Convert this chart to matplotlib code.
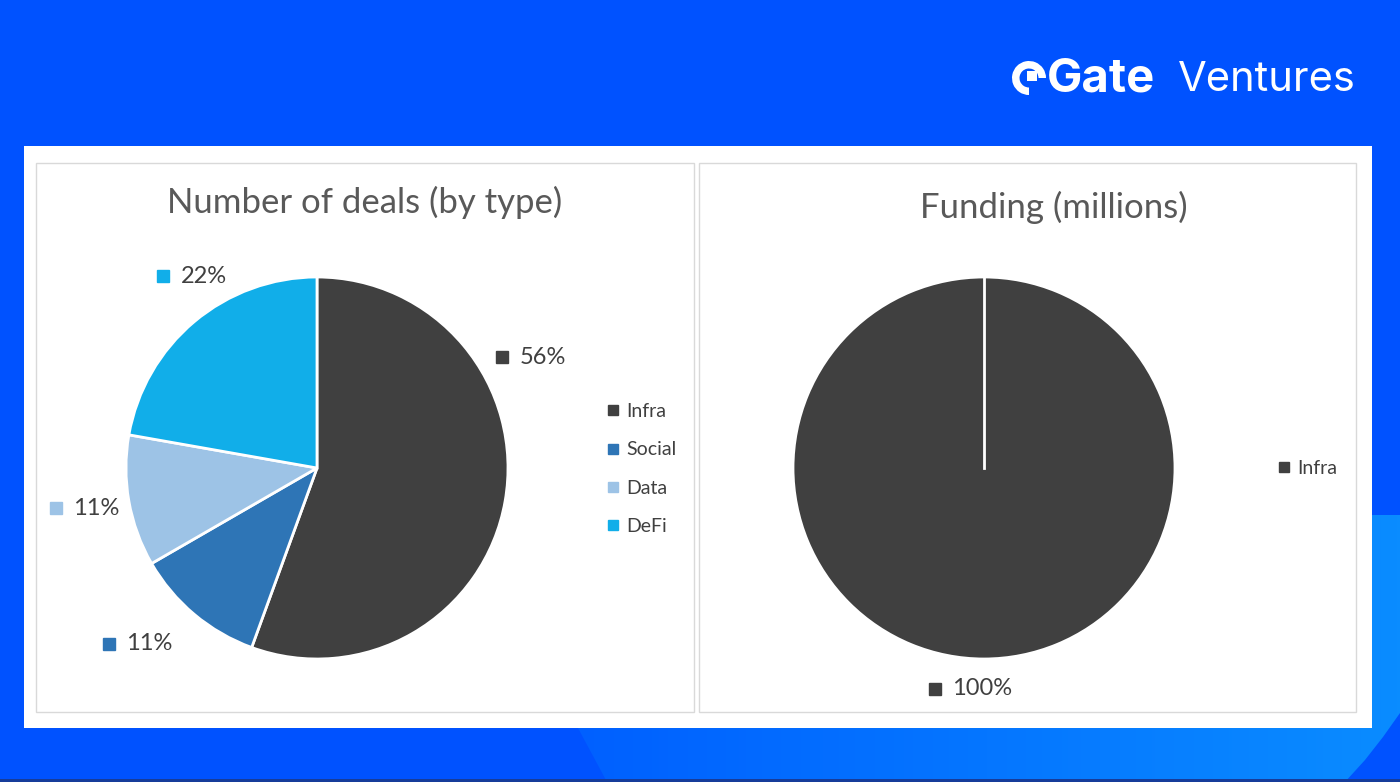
import matplotlib
matplotlib.use("Agg")
import matplotlib.pyplot as plt
import numpy as np
from matplotlib.patches import Rectangle, Polygon, Wedge
from matplotlib.lines import Line2D

# data
deal_types = ["Infra", "Social", "Data", "DeFi"]
deal_counts = [5, 1, 1, 2]
deal_colors = ["#404040", "#2E75B6", "#9DC3E6", "#11AEE9"]
# label positions (pie radius units), Excel "best fit"
deal_label_pos = [(1.12, 0.58), (-0.94, -0.92), (-1.215, -0.21), (-0.655, 1.005)]

fund_types = ["Infra"]
fund_values = [100]
fund_colors = ["#404040"]
fund_label_pos = [(-0.105, -1.157)]

W, H = 1400, 782
BLUE = "#0052FF"
FONT = ["Lato", "DejaVu Sans"]
TXT = "#404040"

fig = plt.figure(figsize=(W / 100, H / 100), dpi=100)
fig.patch.set_facecolor(BLUE)

bg = fig.add_axes([0, 0, 1, 1])
bg.set_xlim(0, W)
bg.set_ylim(H, 0)
bg.axis("off")

# lighter blue band in the lower right, gradient from left to right
band = Polygon([(578, 728), (607, 782), (1345, 782), (1365, 760), (1383, 737),
                (1400, 713), (1400, 515), (1372, 515), (1372, 728)],
               closed=True, facecolor="none", edgecolor="none")
bg.add_patch(band)
grad = np.linspace(0, 1, 256).reshape(1, -1)
cmap = matplotlib.colors.LinearSegmentedColormap.from_list("b", ["#0060FF", "#0A8CFF"])
im = bg.imshow(grad, cmap=cmap, extent=(575, 1400, 782, 515), aspect="auto", zorder=1)
im.set_clip_path(band)
bg.add_patch(Rectangle((0, 779), W, 3, facecolor="#173C9A", edgecolor="none", zorder=2))

# white panel and chart frames
bg.add_patch(Rectangle((24, 146), 1348, 582, facecolor="white", edgecolor="none", zorder=3))
for x0, x1 in [(36, 694), (699, 1356)]:
    bg.add_patch(Rectangle((x0, 163), x1 - x0, 549, facecolor="white",
                           edgecolor="#D9D9D9", lw=1, zorder=4))

# logo
bg.add_patch(Wedge((1029, 78), 17, 90, 360, width=7.5, facecolor="white",
                   edgecolor="none", zorder=5))
bg.add_patch(Rectangle((1027, 71), 10, 10, facecolor="white", edgecolor="none", zorder=5))
bg.text(1047, 80, "Gate", color="white", fontsize=34, fontweight="bold",
        family=["Inter", "DejaVu Sans"], va="center", ha="left", zorder=5)
bg.text(1178, 80, "Ventures", color="white", fontsize=30,
        family=["Inter", "DejaVu Sans"], va="center", ha="left", zorder=5)

# titles
bg.text(365, 202, "Number of deals (by type)", color="#595959", fontsize=25,
        family=FONT, ha="center", va="center", zorder=5)
bg.text(1054, 207, "Funding (millions)", color="#595959", fontsize=25,
        family=FONT, ha="center", va="center", zorder=5)


def pie_axes(cx, cy, r):
    return fig.add_axes([(cx - r) / W, (H - cy - r) / H, 2 * r / W, 2 * r / H])


def draw_pie(ax, values, colors, label_pos):
    wedges, _ = ax.pie(values, colors=colors, startangle=90, counterclock=False,
                       radius=1, wedgeprops=dict(edgecolor="white", linewidth=2))
    total = sum(values)
    for v, c, (lx, ly) in zip(values, colors, label_pos):
        ax.plot([lx - 0.15], [ly], marker="s", ms=8, color=c, ls="none", clip_on=False)
        ax.text(lx - 0.06, ly, f"{round(100 * v / total)}%", color=TXT, fontsize=17,
                family=FONT, ha="left", va="center", clip_on=False)
    ax.set_xlim(-1, 1)
    ax.set_ylim(-1, 1)
    ax.set_aspect("equal")
    ax.axis("off")
    return wedges


ax1 = pie_axes(317, 468, 191)
ax1.set_zorder(6)
draw_pie(ax1, deal_counts, deal_colors, deal_label_pos)

ax2 = pie_axes(984, 468, 191)
ax2.set_zorder(6)
draw_pie(ax2, fund_values, fund_colors, fund_label_pos)
# radial border at the start angle of the single slice
a = np.deg2rad(90)
ax2.plot([0, np.cos(a)], [0, np.sin(a)], color="white", lw=2)


def legend(names, colors, x, y, spacing):
    handles = [Line2D([], [], marker="s", ms=7, color=c, ls="none") for c in colors]
    leg = fig.legend(handles, names, loc="center left", bbox_to_anchor=(x / W, 1 - y / H),
                     frameon=False, handlelength=0.6, handletextpad=0.35,
                     labelspacing=spacing, prop=dict(family=FONT, size=14))
    for t in leg.get_texts():
        t.set_color(TXT)
    leg.set_zorder(7)


legend(deal_types, deal_colors, 590, 469, 1.1)
legend(fund_types, fund_colors, 1261, 468, 1.1)

fig.savefig("out.png", dpi=100, facecolor=fig.get_facecolor())
